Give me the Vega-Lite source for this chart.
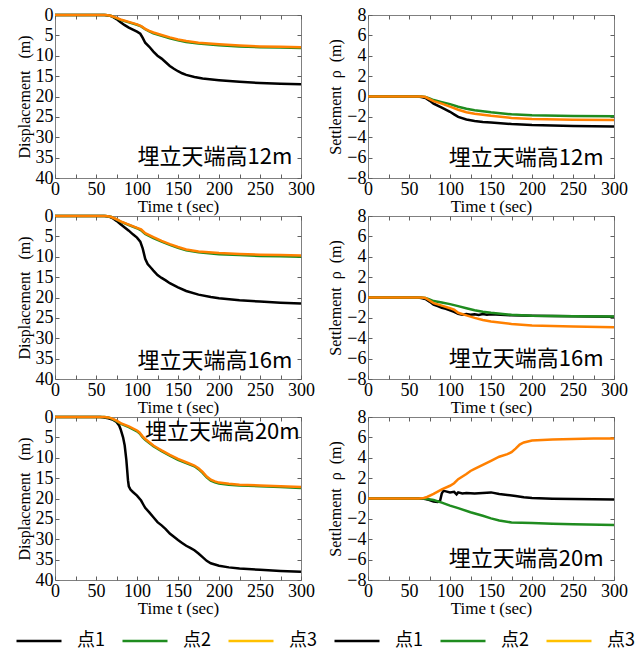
{
"$schema": "https://vega.github.io/schema/vega-lite/v6.json",
"padding": {"left": 15, "top": 5, "right": 5, "bottom": 5},
"background": "white",
"datasets": {
"d12": [
{"t":0,"v":0,"s":"点1"},{"t":60,"v":0,"s":"点1"},{"t":65,"v":0.1,"s":"点1"},{"t":70,"v":0.4,"s":"点1"},{"t":75,"v":1.0,"s":"点1"},{"t":80,"v":1.8,"s":"点1"},{"t":85,"v":2.5,"s":"点1"},{"t":90,"v":3.1,"s":"点1"},{"t":95,"v":3.6,"s":"点1"},{"t":100,"v":4.1,"s":"点1"},{"t":104,"v":4.6,"s":"点1"},{"t":107,"v":5.6,"s":"点1"},{"t":110,"v":6.8,"s":"点1"},{"t":115,"v":7.8,"s":"点1"},{"t":120,"v":9.0,"s":"点1"},{"t":125,"v":10.0,"s":"点1"},{"t":130,"v":10.7,"s":"点1"},{"t":135,"v":11.6,"s":"点1"},{"t":140,"v":12.5,"s":"点1"},{"t":145,"v":13.2,"s":"点1"},{"t":150,"v":13.8,"s":"点1"},{"t":155,"v":14.3,"s":"点1"},{"t":160,"v":14.7,"s":"点1"},{"t":170,"v":15.2,"s":"点1"},{"t":180,"v":15.6,"s":"点1"},{"t":200,"v":16.0,"s":"点1"},{"t":225,"v":16.4,"s":"点1"},{"t":250,"v":16.7,"s":"点1"},{"t":275,"v":16.9,"s":"点1"},{"t":300,"v":17.0,"s":"点1"},
{"t":0,"v":0,"s":"点2"},{"t":62,"v":0,"s":"点2"},{"t":68,"v":0.2,"s":"点2"},{"t":75,"v":0.75,"s":"点2"},{"t":80,"v":1.2,"s":"点2"},{"t":90,"v":1.8,"s":"点2"},{"t":100,"v":2.4,"s":"点2"},{"t":105,"v":2.8,"s":"点2"},{"t":110,"v":3.5,"s":"点2"},{"t":115,"v":4.0,"s":"点2"},{"t":120,"v":4.5,"s":"点2"},{"t":130,"v":5.1,"s":"点2"},{"t":140,"v":5.7,"s":"点2"},{"t":150,"v":6.2,"s":"点2"},{"t":160,"v":6.6,"s":"点2"},{"t":175,"v":7.0,"s":"点2"},{"t":200,"v":7.4,"s":"点2"},{"t":225,"v":7.7,"s":"点2"},{"t":250,"v":7.9,"s":"点2"},{"t":275,"v":8.0,"s":"点2"},{"t":300,"v":8.1,"s":"点2"},
{"t":0,"v":0,"s":"点3"},{"t":62,"v":0,"s":"点3"},{"t":68,"v":0.2,"s":"点3"},{"t":75,"v":0.7,"s":"点3"},{"t":80,"v":1.1,"s":"点3"},{"t":90,"v":1.7,"s":"点3"},{"t":100,"v":2.3,"s":"点3"},{"t":105,"v":2.7,"s":"点3"},{"t":110,"v":3.4,"s":"点3"},{"t":115,"v":3.9,"s":"点3"},{"t":120,"v":4.3,"s":"点3"},{"t":130,"v":4.9,"s":"点3"},{"t":140,"v":5.5,"s":"点3"},{"t":150,"v":6.0,"s":"点3"},{"t":160,"v":6.4,"s":"点3"},{"t":175,"v":6.8,"s":"点3"},{"t":200,"v":7.2,"s":"点3"},{"t":225,"v":7.5,"s":"点3"},{"t":250,"v":7.7,"s":"点3"},{"t":275,"v":7.8,"s":"点3"},{"t":300,"v":7.9,"s":"点3"}
],
"s12": [
{"t":0,"v":0,"s":"点1 "},{"t":60,"v":0,"s":"点1 "},{"t":65,"v":-0.05,"s":"点1 "},{"t":70,"v":-0.15,"s":"点1 "},{"t":75,"v":-0.4,"s":"点1 "},{"t":80,"v":-0.7,"s":"点1 "},{"t":90,"v":-1.1,"s":"点1 "},{"t":100,"v":-1.5,"s":"点1 "},{"t":105,"v":-1.75,"s":"点1 "},{"t":110,"v":-2.0,"s":"点1 "},{"t":120,"v":-2.25,"s":"点1 "},{"t":130,"v":-2.4,"s":"点1 "},{"t":140,"v":-2.5,"s":"点1 "},{"t":150,"v":-2.55,"s":"点1 "},{"t":175,"v":-2.7,"s":"点1 "},{"t":200,"v":-2.8,"s":"点1 "},{"t":250,"v":-2.9,"s":"点1 "},{"t":300,"v":-2.95,"s":"点1 "},
{"t":0,"v":0,"s":"点2 "},{"t":65,"v":0,"s":"点2 "},{"t":70,"v":-0.05,"s":"点2 "},{"t":75,"v":-0.2,"s":"点2 "},{"t":80,"v":-0.35,"s":"点2 "},{"t":90,"v":-0.55,"s":"点2 "},{"t":100,"v":-0.75,"s":"点2 "},{"t":110,"v":-1.0,"s":"点2 "},{"t":120,"v":-1.2,"s":"点2 "},{"t":130,"v":-1.35,"s":"点2 "},{"t":150,"v":-1.55,"s":"点2 "},{"t":175,"v":-1.75,"s":"点2 "},{"t":200,"v":-1.85,"s":"点2 "},{"t":250,"v":-1.92,"s":"点2 "},{"t":300,"v":-1.95,"s":"点2 "},
{"t":0,"v":0,"s":"点3 "},{"t":65,"v":0,"s":"点3 "},{"t":70,"v":-0.05,"s":"点3 "},{"t":75,"v":-0.25,"s":"点3 "},{"t":80,"v":-0.45,"s":"点3 "},{"t":90,"v":-0.7,"s":"点3 "},{"t":100,"v":-1.0,"s":"点3 "},{"t":110,"v":-1.3,"s":"点3 "},{"t":120,"v":-1.55,"s":"点3 "},{"t":130,"v":-1.7,"s":"点3 "},{"t":150,"v":-1.9,"s":"点3 "},{"t":175,"v":-2.1,"s":"点3 "},{"t":200,"v":-2.2,"s":"点3 "},{"t":250,"v":-2.27,"s":"点3 "},{"t":300,"v":-2.3,"s":"点3 "}
],
"d16": [
{"t":0,"v":0,"s":"点1"},{"t":60,"v":0,"s":"点1"},{"t":65,"v":0.1,"s":"点1"},{"t":70,"v":0.5,"s":"点1"},{"t":75,"v":1.2,"s":"点1"},{"t":80,"v":2.0,"s":"点1"},{"t":85,"v":2.8,"s":"点1"},{"t":90,"v":3.6,"s":"点1"},{"t":95,"v":4.5,"s":"点1"},{"t":100,"v":5.3,"s":"点1"},{"t":104,"v":6.3,"s":"点1"},{"t":107,"v":8.0,"s":"点1"},{"t":110,"v":10.5,"s":"点1"},{"t":113,"v":11.8,"s":"点1"},{"t":117,"v":12.7,"s":"点1"},{"t":120,"v":13.4,"s":"点1"},{"t":125,"v":14.5,"s":"点1"},{"t":130,"v":15.2,"s":"点1"},{"t":135,"v":15.8,"s":"点1"},{"t":140,"v":16.5,"s":"点1"},{"t":150,"v":17.5,"s":"点1"},{"t":160,"v":18.4,"s":"点1"},{"t":175,"v":19.3,"s":"点1"},{"t":190,"v":19.9,"s":"点1"},{"t":200,"v":20.2,"s":"点1"},{"t":225,"v":20.7,"s":"点1"},{"t":250,"v":21.0,"s":"点1"},{"t":275,"v":21.3,"s":"点1"},{"t":300,"v":21.5,"s":"点1"},
{"t":0,"v":0,"s":"点2"},{"t":62,"v":0,"s":"点2"},{"t":68,"v":0.2,"s":"点2"},{"t":75,"v":0.85,"s":"点2"},{"t":80,"v":1.4,"s":"点2"},{"t":90,"v":2.2,"s":"点2"},{"t":100,"v":3.0,"s":"点2"},{"t":105,"v":3.5,"s":"点2"},{"t":110,"v":4.4,"s":"点2"},{"t":120,"v":5.4,"s":"点2"},{"t":130,"v":6.3,"s":"点2"},{"t":140,"v":7.1,"s":"点2"},{"t":150,"v":7.8,"s":"点2"},{"t":160,"v":8.4,"s":"点2"},{"t":175,"v":8.9,"s":"点2"},{"t":200,"v":9.4,"s":"点2"},{"t":225,"v":9.6,"s":"点2"},{"t":250,"v":9.8,"s":"点2"},{"t":275,"v":9.9,"s":"点2"},{"t":300,"v":10.0,"s":"点2"},
{"t":0,"v":0,"s":"点3"},{"t":62,"v":0,"s":"点3"},{"t":68,"v":0.2,"s":"点3"},{"t":75,"v":0.8,"s":"点3"},{"t":80,"v":1.3,"s":"点3"},{"t":90,"v":2.1,"s":"点3"},{"t":100,"v":2.9,"s":"点3"},{"t":105,"v":3.3,"s":"点3"},{"t":110,"v":4.2,"s":"点3"},{"t":120,"v":5.2,"s":"点3"},{"t":130,"v":6.1,"s":"点3"},{"t":140,"v":6.9,"s":"点3"},{"t":150,"v":7.6,"s":"点3"},{"t":160,"v":8.2,"s":"点3"},{"t":175,"v":8.7,"s":"点3"},{"t":200,"v":9.1,"s":"点3"},{"t":225,"v":9.35,"s":"点3"},{"t":250,"v":9.5,"s":"点3"},{"t":275,"v":9.6,"s":"点3"},{"t":300,"v":9.7,"s":"点3"}
],
"s16": [
{"t":0,"v":0,"s":"点1 "},{"t":60,"v":0,"s":"点1 "},{"t":65,"v":-0.05,"s":"点1 "},{"t":70,"v":-0.15,"s":"点1 "},{"t":75,"v":-0.4,"s":"点1 "},{"t":80,"v":-0.7,"s":"点1 "},{"t":85,"v":-0.85,"s":"点1 "},{"t":90,"v":-1.0,"s":"点1 "},{"t":95,"v":-1.1,"s":"点1 "},{"t":100,"v":-1.25,"s":"点1 "},{"t":105,"v":-1.4,"s":"点1 "},{"t":110,"v":-1.6,"s":"点1 "},{"t":115,"v":-1.7,"s":"点1 "},{"t":120,"v":-1.62,"s":"点1 "},{"t":125,"v":-1.7,"s":"点1 "},{"t":130,"v":-1.65,"s":"点1 "},{"t":135,"v":-1.72,"s":"点1 "},{"t":140,"v":-1.62,"s":"点1 "},{"t":145,"v":-1.7,"s":"点1 "},{"t":150,"v":-1.65,"s":"点1 "},{"t":175,"v":-1.75,"s":"点1 "},{"t":200,"v":-1.8,"s":"点1 "},{"t":250,"v":-1.85,"s":"点1 "},{"t":300,"v":-1.88,"s":"点1 "},
{"t":0,"v":0,"s":"点2 "},{"t":65,"v":0,"s":"点2 "},{"t":70,"v":-0.05,"s":"点2 "},{"t":75,"v":-0.2,"s":"点2 "},{"t":80,"v":-0.35,"s":"点2 "},{"t":90,"v":-0.5,"s":"点2 "},{"t":100,"v":-0.65,"s":"点2 "},{"t":110,"v":-0.85,"s":"点2 "},{"t":120,"v":-1.05,"s":"点2 "},{"t":130,"v":-1.25,"s":"点2 "},{"t":140,"v":-1.4,"s":"点2 "},{"t":150,"v":-1.5,"s":"点2 "},{"t":175,"v":-1.7,"s":"点2 "},{"t":200,"v":-1.78,"s":"点2 "},{"t":250,"v":-1.83,"s":"点2 "},{"t":300,"v":-1.87,"s":"点2 "},
{"t":0,"v":0,"s":"点3 "},{"t":65,"v":0,"s":"点3 "},{"t":70,"v":-0.05,"s":"点3 "},{"t":75,"v":-0.3,"s":"点3 "},{"t":80,"v":-0.55,"s":"点3 "},{"t":90,"v":-0.8,"s":"点3 "},{"t":100,"v":-1.05,"s":"点3 "},{"t":105,"v":-1.2,"s":"点3 "},{"t":110,"v":-1.5,"s":"点3 "},{"t":120,"v":-1.75,"s":"点3 "},{"t":130,"v":-2.0,"s":"点3 "},{"t":140,"v":-2.2,"s":"点3 "},{"t":150,"v":-2.35,"s":"点3 "},{"t":175,"v":-2.6,"s":"点3 "},{"t":200,"v":-2.75,"s":"点3 "},{"t":250,"v":-2.85,"s":"点3 "},{"t":300,"v":-2.92,"s":"点3 "}
],
"d20": [
{"t":0,"v":0,"s":"点1"},{"t":55,"v":0,"s":"点1"},{"t":60,"v":0.1,"s":"点1"},{"t":65,"v":0.3,"s":"点1"},{"t":70,"v":0.6,"s":"点1"},{"t":75,"v":1.2,"s":"点1"},{"t":78,"v":2.0,"s":"点1"},{"t":80,"v":3.0,"s":"点1"},{"t":83,"v":5.0,"s":"点1"},{"t":85,"v":7.0,"s":"点1"},{"t":87,"v":10.5,"s":"点1"},{"t":88,"v":13.0,"s":"点1"},{"t":89,"v":15.5,"s":"点1"},{"t":90,"v":17.0,"s":"点1"},{"t":92,"v":17.8,"s":"点1"},{"t":95,"v":18.4,"s":"点1"},{"t":100,"v":19.3,"s":"点1"},{"t":105,"v":20.5,"s":"点1"},{"t":108,"v":21.6,"s":"点1"},{"t":110,"v":22.3,"s":"点1"},{"t":115,"v":23.4,"s":"点1"},{"t":120,"v":24.6,"s":"点1"},{"t":125,"v":25.8,"s":"点1"},{"t":130,"v":26.6,"s":"点1"},{"t":135,"v":27.5,"s":"点1"},{"t":140,"v":28.6,"s":"点1"},{"t":145,"v":29.4,"s":"点1"},{"t":150,"v":30.2,"s":"点1"},{"t":155,"v":30.9,"s":"点1"},{"t":160,"v":31.6,"s":"点1"},{"t":165,"v":32.1,"s":"点1"},{"t":170,"v":32.7,"s":"点1"},{"t":175,"v":33.5,"s":"点1"},{"t":180,"v":34.4,"s":"点1"},{"t":185,"v":35.3,"s":"点1"},{"t":190,"v":35.9,"s":"点1"},{"t":200,"v":36.5,"s":"点1"},{"t":212,"v":36.9,"s":"点1"},{"t":225,"v":37.2,"s":"点1"},{"t":250,"v":37.5,"s":"点1"},{"t":275,"v":37.8,"s":"点1"},{"t":300,"v":38.0,"s":"点1"},
{"t":0,"v":0,"s":"点2"},{"t":60,"v":0,"s":"点2"},{"t":65,"v":0.1,"s":"点2"},{"t":70,"v":0.45,"s":"点2"},{"t":75,"v":1.0,"s":"点2"},{"t":80,"v":1.6,"s":"点2"},{"t":90,"v":2.5,"s":"点2"},{"t":100,"v":3.5,"s":"点2"},{"t":103,"v":4.0,"s":"点2"},{"t":107,"v":5.0,"s":"点2"},{"t":110,"v":5.6,"s":"点2"},{"t":115,"v":6.4,"s":"点2"},{"t":120,"v":7.2,"s":"点2"},{"t":125,"v":7.8,"s":"点2"},{"t":130,"v":8.4,"s":"点2"},{"t":140,"v":9.5,"s":"点2"},{"t":150,"v":10.5,"s":"点2"},{"t":160,"v":11.3,"s":"点2"},{"t":170,"v":12.1,"s":"点2"},{"t":175,"v":12.8,"s":"点2"},{"t":180,"v":13.7,"s":"点2"},{"t":185,"v":14.8,"s":"点2"},{"t":190,"v":15.6,"s":"点2"},{"t":195,"v":16.0,"s":"点2"},{"t":200,"v":16.3,"s":"点2"},{"t":212,"v":16.6,"s":"点2"},{"t":225,"v":16.8,"s":"点2"},{"t":250,"v":17.0,"s":"点2"},{"t":275,"v":17.2,"s":"点2"},{"t":300,"v":17.4,"s":"点2"},
{"t":0,"v":0,"s":"点3"},{"t":60,"v":0,"s":"点3"},{"t":65,"v":0.1,"s":"点3"},{"t":70,"v":0.4,"s":"点3"},{"t":75,"v":0.9,"s":"点3"},{"t":80,"v":1.5,"s":"点3"},{"t":90,"v":2.3,"s":"点3"},{"t":100,"v":3.3,"s":"点3"},{"t":103,"v":3.8,"s":"点3"},{"t":107,"v":4.8,"s":"点3"},{"t":110,"v":5.4,"s":"点3"},{"t":115,"v":6.2,"s":"点3"},{"t":120,"v":7.0,"s":"点3"},{"t":125,"v":7.6,"s":"点3"},{"t":130,"v":8.2,"s":"点3"},{"t":140,"v":9.3,"s":"点3"},{"t":150,"v":10.3,"s":"点3"},{"t":160,"v":11.1,"s":"点3"},{"t":170,"v":11.9,"s":"点3"},{"t":175,"v":12.6,"s":"点3"},{"t":180,"v":13.5,"s":"点3"},{"t":185,"v":14.6,"s":"点3"},{"t":190,"v":15.4,"s":"点3"},{"t":195,"v":15.8,"s":"点3"},{"t":200,"v":16.1,"s":"点3"},{"t":212,"v":16.4,"s":"点3"},{"t":225,"v":16.6,"s":"点3"},{"t":250,"v":16.8,"s":"点3"},{"t":275,"v":17.0,"s":"点3"},{"t":300,"v":17.2,"s":"点3"}
],
"s20": [
{"t":0,"v":0,"s":"点1 "},{"t":65,"v":0,"s":"点1 "},{"t":70,"v":-0.05,"s":"点1 "},{"t":75,"v":-0.15,"s":"点1 "},{"t":80,"v":-0.3,"s":"点1 "},{"t":85,"v":-0.35,"s":"点1 "},{"t":88,"v":-0.2,"s":"点1 "},{"t":90,"v":0.5,"s":"点1 "},{"t":92,"v":0.75,"s":"点1 "},{"t":95,"v":0.7,"s":"点1 "},{"t":100,"v":0.6,"s":"点1 "},{"t":105,"v":0.65,"s":"点1 "},{"t":108,"v":0.4,"s":"点1 "},{"t":110,"v":0.6,"s":"点1 "},{"t":115,"v":0.5,"s":"点1 "},{"t":120,"v":0.55,"s":"点1 "},{"t":130,"v":0.5,"s":"点1 "},{"t":140,"v":0.55,"s":"点1 "},{"t":150,"v":0.6,"s":"点1 "},{"t":160,"v":0.45,"s":"点1 "},{"t":170,"v":0.35,"s":"点1 "},{"t":180,"v":0.25,"s":"点1 "},{"t":190,"v":0.12,"s":"点1 "},{"t":200,"v":0.05,"s":"点1 "},{"t":225,"v":-0.02,"s":"点1 "},{"t":250,"v":-0.05,"s":"点1 "},{"t":275,"v":-0.08,"s":"点1 "},{"t":300,"v":-0.1,"s":"点1 "},
{"t":0,"v":0,"s":"点2 "},{"t":65,"v":0,"s":"点2 "},{"t":70,"v":-0.02,"s":"点2 "},{"t":80,"v":-0.15,"s":"点2 "},{"t":90,"v":-0.4,"s":"点2 "},{"t":100,"v":-0.7,"s":"点2 "},{"t":110,"v":-0.95,"s":"点2 "},{"t":125,"v":-1.35,"s":"点2 "},{"t":140,"v":-1.7,"s":"点2 "},{"t":150,"v":-1.95,"s":"点2 "},{"t":160,"v":-2.15,"s":"点2 "},{"t":175,"v":-2.35,"s":"点2 "},{"t":200,"v":-2.4,"s":"点2 "},{"t":225,"v":-2.47,"s":"点2 "},{"t":250,"v":-2.52,"s":"点2 "},{"t":300,"v":-2.6,"s":"点2 "},
{"t":0,"v":0,"s":"点3 "},{"t":62,"v":0,"s":"点3 "},{"t":68,"v":0.05,"s":"点3 "},{"t":72,"v":0.15,"s":"点3 "},{"t":80,"v":0.45,"s":"点3 "},{"t":90,"v":0.9,"s":"点3 "},{"t":100,"v":1.25,"s":"点3 "},{"t":105,"v":1.5,"s":"点3 "},{"t":110,"v":1.9,"s":"点3 "},{"t":120,"v":2.4,"s":"点3 "},{"t":125,"v":2.7,"s":"点3 "},{"t":130,"v":2.9,"s":"点3 "},{"t":140,"v":3.3,"s":"点3 "},{"t":150,"v":3.7,"s":"点3 "},{"t":160,"v":4.1,"s":"点3 "},{"t":170,"v":4.35,"s":"点3 "},{"t":175,"v":4.55,"s":"点3 "},{"t":180,"v":4.9,"s":"点3 "},{"t":185,"v":5.3,"s":"点3 "},{"t":190,"v":5.5,"s":"点3 "},{"t":200,"v":5.7,"s":"点3 "},{"t":225,"v":5.8,"s":"点3 "},{"t":250,"v":5.85,"s":"点3 "},{"t":275,"v":5.88,"s":"点3 "},{"t":300,"v":5.9,"s":"点3 "}
]
},
"columns": 2,
"spacing": {"column": 67, "row": 38},
"bounds": "flush",
"concat": [
{"width": 246, "height": 163, "resolve": {"axis": {"x": "independent", "y": "independent"}},
 "layer": [
  {"data": {"name": "d12"}, "mark": {"type": "line", "strokeWidth": 2.5},
   "encoding": {
    "x": {"field": "t", "type": "quantitative", "scale": {"domain": [0, 300], "nice": false}, "axis": {"values": [0,25,50,75,100,125,150,175,200,225,250,275,300], "labelExpr": "datum.value % 50 == 0 ? datum.label : ''", "title": "Time t (sec)"}},
    "y": {"field": "v", "type": "quantitative", "scale": {"domain": [0, 40], "reverse": true, "nice": false}, "axis": {"values": [0,5,10,15,20,25,30,35,40], "title": "Displacement\u00a0\u00a0\u00a0(m)"}},
    "color": {"condition": {"test": "datum.s == '点3' || datum.s == '点3 '", "value": "#ff8000"}, "field": "s", "type": "nominal", "scale": {"domain": ["点1","点2","点3","点1 ","点2 ","点3 "], "range": ["#000000","#1f8c1f","#ffc000","#000000","#1f8c1f","#ffc000"]},
     "legend": {"orient": "none", "legendX": -40, "legendY": 602, "direction": "horizontal", "title": null, "symbolType": "stroke", "symbolSize": 2025, "symbolStrokeWidth": 2.5, "labelFont": "Noto Sans CJK JP", "labelFontSize": 18, "labelColor": "#000000", "labelOffset": 14, "columnPadding": 12}}
   }},
  {"data": {"values": [{"t": 195, "v": 34.8, "label": "埋立天端高12m"}]}, "mark": {"type": "text", "fontSize": 22, "font": "Noto Sans CJK JP", "color": "#000000"},
   "encoding": {
    "x": {"field": "t", "type": "quantitative", "axis": {"orient": "top", "labels": false, "title": null, "values": [0,25,50,75,100,125,150,175,200,225,250,275,300]}},
    "y": {"field": "v", "type": "quantitative", "axis": {"orient": "right", "labels": false, "title": null, "values": [0,5,10,15,20,25,30,35,40]}},
    "text": {"field": "label"}
   }}
 ]},
{"width": 246, "height": 163, "resolve": {"axis": {"x": "independent", "y": "independent"}},
 "layer": [
  {"data": {"name": "s12"}, "mark": {"type": "line", "strokeWidth": 2.5},
   "encoding": {
    "x": {"field": "t", "type": "quantitative", "scale": {"domain": [0, 300], "nice": false}, "axis": {"values": [0,25,50,75,100,125,150,175,200,225,250,275,300], "labelExpr": "datum.value % 50 == 0 ? datum.label : ''", "title": "Time t (sec)"}},
    "y": {"field": "v", "type": "quantitative", "scale": {"domain": [-8, 8], "nice": false}, "axis": {"values": [-8,-6,-4,-2,0,2,4,6,8], "title": "Settlement\u00a0\u00a0ρ\u00a0\u00a0(m)"}},
    "color": {"condition": {"test": "datum.s == '点3' || datum.s == '点3 '", "value": "#ff8000"}, "field": "s", "type": "nominal", "scale": {"domain": ["点1","点2","点3","点1 ","点2 ","点3 "], "range": ["#000000","#1f8c1f","#ffc000","#000000","#1f8c1f","#ffc000"]}}
   }},
  {"data": {"values": [{"t": 193, "v": -6.0, "label": "埋立天端高12m"}]}, "mark": {"type": "text", "fontSize": 22, "font": "Noto Sans CJK JP", "color": "#000000"},
   "encoding": {
    "x": {"field": "t", "type": "quantitative", "axis": {"orient": "top", "labels": false, "title": null, "values": [0,25,50,75,100,125,150,175,200,225,250,275,300]}},
    "y": {"field": "v", "type": "quantitative", "axis": {"orient": "right", "labels": false, "title": null, "values": [-8,-6,-4,-2,0,2,4,6,8]}},
    "text": {"field": "label"}
   }}
 ]},
{"width": 246, "height": 163, "resolve": {"axis": {"x": "independent", "y": "independent"}},
 "layer": [
  {"data": {"name": "d16"}, "mark": {"type": "line", "strokeWidth": 2.5},
   "encoding": {
    "x": {"field": "t", "type": "quantitative", "scale": {"domain": [0, 300], "nice": false}, "axis": {"values": [0,25,50,75,100,125,150,175,200,225,250,275,300], "labelExpr": "datum.value % 50 == 0 ? datum.label : ''", "title": "Time t (sec)"}},
    "y": {"field": "v", "type": "quantitative", "scale": {"domain": [0, 40], "reverse": true, "nice": false}, "axis": {"values": [0,5,10,15,20,25,30,35,40], "title": "Displacement\u00a0\u00a0\u00a0(m)"}},
    "color": {"condition": {"test": "datum.s == '点3' || datum.s == '点3 '", "value": "#ff8000"}, "field": "s", "type": "nominal", "scale": {"domain": ["点1","点2","点3","点1 ","点2 ","点3 "], "range": ["#000000","#1f8c1f","#ffc000","#000000","#1f8c1f","#ffc000"]}}
   }},
  {"data": {"values": [{"t": 195, "v": 35.7, "label": "埋立天端高16m"}]}, "mark": {"type": "text", "fontSize": 22, "font": "Noto Sans CJK JP", "color": "#000000"},
   "encoding": {
    "x": {"field": "t", "type": "quantitative", "axis": {"orient": "top", "labels": false, "title": null, "values": [0,25,50,75,100,125,150,175,200,225,250,275,300]}},
    "y": {"field": "v", "type": "quantitative", "axis": {"orient": "right", "labels": false, "title": null, "values": [0,5,10,15,20,25,30,35,40]}},
    "text": {"field": "label"}
   }}
 ]},
{"width": 246, "height": 163, "resolve": {"axis": {"x": "independent", "y": "independent"}},
 "layer": [
  {"data": {"name": "s16"}, "mark": {"type": "line", "strokeWidth": 2.5},
   "encoding": {
    "x": {"field": "t", "type": "quantitative", "scale": {"domain": [0, 300], "nice": false}, "axis": {"values": [0,25,50,75,100,125,150,175,200,225,250,275,300], "labelExpr": "datum.value % 50 == 0 ? datum.label : ''", "title": "Time t (sec)"}},
    "y": {"field": "v", "type": "quantitative", "scale": {"domain": [-8, 8], "nice": false}, "axis": {"values": [-8,-6,-4,-2,0,2,4,6,8], "title": "Settlement\u00a0\u00a0ρ\u00a0\u00a0(m)"}},
    "color": {"condition": {"test": "datum.s == '点3' || datum.s == '点3 '", "value": "#ff8000"}, "field": "s", "type": "nominal", "scale": {"domain": ["点1","点2","点3","点1 ","点2 ","点3 "], "range": ["#000000","#1f8c1f","#ffc000","#000000","#1f8c1f","#ffc000"]}}
   }},
  {"data": {"values": [{"t": 193, "v": -6.0, "label": "埋立天端高16m"}]}, "mark": {"type": "text", "fontSize": 22, "font": "Noto Sans CJK JP", "color": "#000000"},
   "encoding": {
    "x": {"field": "t", "type": "quantitative", "axis": {"orient": "top", "labels": false, "title": null, "values": [0,25,50,75,100,125,150,175,200,225,250,275,300]}},
    "y": {"field": "v", "type": "quantitative", "axis": {"orient": "right", "labels": false, "title": null, "values": [-8,-6,-4,-2,0,2,4,6,8]}},
    "text": {"field": "label"}
   }}
 ]},
{"width": 246, "height": 163, "resolve": {"axis": {"x": "independent", "y": "independent"}},
 "layer": [
  {"data": {"name": "d20"}, "mark": {"type": "line", "strokeWidth": 2.5},
   "encoding": {
    "x": {"field": "t", "type": "quantitative", "scale": {"domain": [0, 300], "nice": false}, "axis": {"values": [0,25,50,75,100,125,150,175,200,225,250,275,300], "labelExpr": "datum.value % 50 == 0 ? datum.label : ''", "title": "Time t (sec)"}},
    "y": {"field": "v", "type": "quantitative", "scale": {"domain": [0, 40], "reverse": true, "nice": false}, "axis": {"values": [0,5,10,15,20,25,30,35,40], "title": "Displacement\u00a0\u00a0\u00a0(m)"}},
    "color": {"condition": {"test": "datum.s == '点3' || datum.s == '点3 '", "value": "#ff8000"}, "field": "s", "type": "nominal", "scale": {"domain": ["点1","点2","点3","点1 ","点2 ","点3 "], "range": ["#000000","#1f8c1f","#ffc000","#000000","#1f8c1f","#ffc000"]}}
   }},
  {"data": {"values": [{"t": 204, "v": 3.7, "label": "埋立天端高20m"}]}, "mark": {"type": "text", "fontSize": 22, "font": "Noto Sans CJK JP", "color": "#000000"},
   "encoding": {
    "x": {"field": "t", "type": "quantitative", "axis": {"orient": "top", "labels": false, "title": null, "values": [0,25,50,75,100,125,150,175,200,225,250,275,300]}},
    "y": {"field": "v", "type": "quantitative", "axis": {"orient": "right", "labels": false, "title": null, "values": [0,5,10,15,20,25,30,35,40]}},
    "text": {"field": "label"}
   }}
 ]},
{"width": 246, "height": 163, "resolve": {"axis": {"x": "independent", "y": "independent"}},
 "layer": [
  {"data": {"name": "s20"}, "mark": {"type": "line", "strokeWidth": 2.5},
   "encoding": {
    "x": {"field": "t", "type": "quantitative", "scale": {"domain": [0, 300], "nice": false}, "axis": {"values": [0,25,50,75,100,125,150,175,200,225,250,275,300], "labelExpr": "datum.value % 50 == 0 ? datum.label : ''", "title": "Time t (sec)"}},
    "y": {"field": "v", "type": "quantitative", "scale": {"domain": [-8, 8], "nice": false}, "axis": {"values": [-8,-6,-4,-2,0,2,4,6,8], "title": "Settlement\u00a0\u00a0ρ\u00a0\u00a0(m)"}},
    "color": {"condition": {"test": "datum.s == '点3' || datum.s == '点3 '", "value": "#ff8000"}, "field": "s", "type": "nominal", "scale": {"domain": ["点1","点2","点3","点1 ","点2 ","点3 "], "range": ["#000000","#1f8c1f","#ffc000","#000000","#1f8c1f","#ffc000"]}}
   }},
  {"data": {"values": [{"t": 193, "v": -5.9, "label": "埋立天端高20m"}]}, "mark": {"type": "text", "fontSize": 22, "font": "Noto Sans CJK JP", "color": "#000000"},
   "encoding": {
    "x": {"field": "t", "type": "quantitative", "axis": {"orient": "top", "labels": false, "title": null, "values": [0,25,50,75,100,125,150,175,200,225,250,275,300]}},
    "y": {"field": "v", "type": "quantitative", "axis": {"orient": "right", "labels": false, "title": null, "values": [-8,-6,-4,-2,0,2,4,6,8]}},
    "text": {"field": "label"}
   }}
 ]}
],
"config": {
 "font": "Liberation Serif",
 "view": {"stroke": "#808080", "strokeWidth": 1},
 "axis": {"grid": false, "domain": false, "tickColor": "#606060", "tickSize": -4, "labelFont": "Liberation Serif", "labelFontSize": 18, "labelColor": "#000000", "labelPadding": 6, "labelFlush": false, "labelOverlap": false, "titleFont": "Liberation Serif", "titleFontSize": 16, "titleFontWeight": "normal", "titleColor": "#000000", "titlePadding": 3},
 "axisX": {"titlePadding": 0, "titleFontSize": 17}
}
}
